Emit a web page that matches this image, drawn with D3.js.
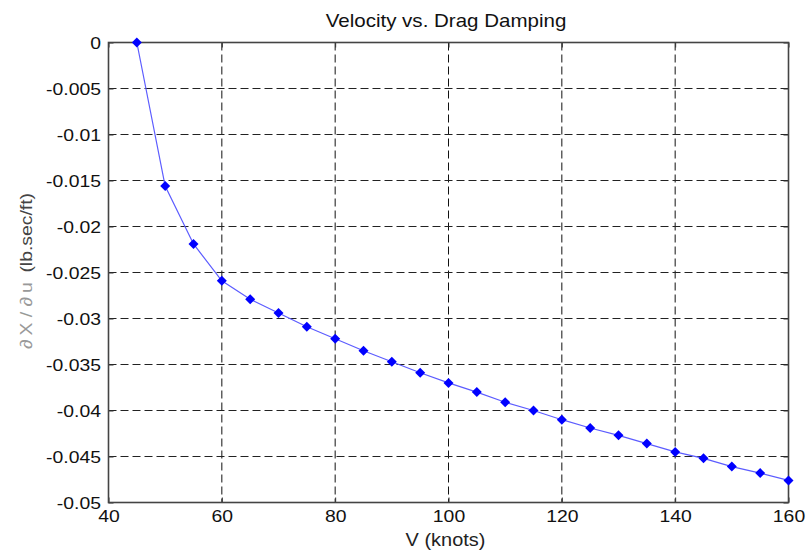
<!DOCTYPE html>
<html>
<head>
<meta charset="utf-8">
<script src="https://cdn.jsdelivr.net/npm/d3@7"></script>
<style>
  html, body { margin: 0; padding: 0; background: #fff; }
  svg { display: block; font-family: "Liberation Sans", Arial, sans-serif; }
</style>
</head>
<body>
<svg id="chart" width="807" height="552"></svg>
<script>
// Airspeed (knots) and the drag damping derivative dX/du (lb.sec/ft)
const speeds = [45, 50, 55, 60, 65, 70, 75, 80, 85, 90, 95, 100, 105, 110, 115, 120, 125, 130, 135, 140, 145, 150, 155, 160];
const damping = [0.0000, -0.0156, -0.0219, -0.0259, -0.0279, -0.0294, -0.0309, -0.0322, -0.0335, -0.0347, -0.0359, -0.0370,
                 -0.0380, -0.0391, -0.0400, -0.0410, -0.0419, -0.0427, -0.0436, -0.0445, -0.0452, -0.0461, -0.0468, -0.0476];
const xTicks = [40, 60, 80, 100, 120, 140, 160];
const yTicks = [0, -0.005, -0.01, -0.015, -0.02, -0.025, -0.03, -0.035, -0.04, -0.045, -0.05];
const yTickLabels = ["0", "-0.005", "-0.01", "-0.015", "-0.02", "-0.025", "-0.03", "-0.035", "-0.04", "-0.045", "-0.05"];

const svg = d3.select("#chart");
const plot = { left: 108.5, right: 788.5, top: 42.5, bottom: 502.5 };
const stretch = 1.14;   // wide glyph rendering used for all text
const fontSize = 17;

const x = d3.scaleLinear().domain([40, 160]).range([plot.left, plot.right]);
const y = d3.scaleLinear().domain([-0.05, 0]).range([plot.bottom, plot.top]);

// Dashed grid
const grid = svg.append("g");
grid.selectAll("line.vg").data(xTicks.slice(1, -1)).join("line")
  .attr("x1", d => x(d)).attr("x2", d => x(d))
  .attr("y1", plot.top).attr("y2", plot.bottom)
  .attr("stroke", "#111").attr("stroke-width", 1).attr("stroke-dasharray", "8,4");
grid.selectAll("line.hg").data(yTicks.slice(1, -1)).join("line")
  .attr("y1", d => y(d)).attr("y2", d => y(d))
  .attr("x1", plot.left).attr("x2", plot.right)
  .attr("stroke", "#222").attr("stroke-width", 1).attr("stroke-dasharray", "8,4");

// Axes: labels on bottom/left, inward ticks on all sides
const xAxis = d3.axisBottom(x).tickValues(xTicks).tickSize(-5).tickPadding(0).tickFormat(d3.format("d"));
const yAxis = d3.axisLeft(y).tickValues(yTicks).tickSize(-5).tickPadding(0).tickFormat((d, i) => yTickLabels[i]);

function styleAxis(g) {
  g.select(".domain").remove();
  g.selectAll(".tick line").attr("stroke", "#333");
  g.selectAll(".tick text").attr("fill", "#111").style("font-size", fontSize + "px")
   .style("font-family", '"Liberation Sans", Arial, sans-serif');
}

svg.append("g").attr("transform", `translate(0,${plot.bottom})`).call(xAxis).call(styleAxis)
  .selectAll(".tick text")
  .attr("y", 20).attr("dy", 0)
  .attr("transform", `scale(${stretch},1)`);
svg.append("g").attr("transform", `translate(${plot.left},0)`).call(yAxis).call(styleAxis)
  .selectAll(".tick text")
  .attr("x", -7.5 / stretch).attr("dy", "0.36em")
  .attr("transform", `scale(${stretch},1)`);
svg.append("g").attr("transform", `translate(0,${plot.top})`)
  .call(d3.axisTop(x).tickValues(xTicks).tickSize(-5).tickFormat(""))
  .call(g => { g.select(".domain").remove(); g.selectAll(".tick line").attr("stroke", "#333"); });
svg.append("g").attr("transform", `translate(${plot.right},0)`)
  .call(d3.axisRight(y).tickValues(yTicks).tickSize(-5).tickFormat(""))
  .call(g => { g.select(".domain").remove(); g.selectAll(".tick line").attr("stroke", "#333"); });

// Axes box
svg.append("rect")
  .attr("x", plot.left).attr("y", plot.top)
  .attr("width", plot.right - plot.left).attr("height", plot.bottom - plot.top)
  .attr("fill", "none").attr("stroke", "#444").attr("stroke-width", 1.6);

// Series line and diamond markers
const pts = speeds.map((v, i) => [v, damping[i]]);
svg.append("path")
  .datum(pts)
  .attr("fill", "none")
  .attr("stroke", "#5c5cff")
  .attr("stroke-width", 1.2)
  .attr("d", d3.line().x(d => x(d[0])).y(d => y(d[1])));

svg.append("g").selectAll("path").data(pts).join("path")
  .attr("transform", d => `translate(${x(d[0])},${y(d[1])}) rotate(45)`)
  .attr("d", d3.symbol(d3.symbolSquare, 50)())
  .attr("fill", "#0000ff");

// Title and axis labels
svg.append("text")
  .attr("transform", `translate(446,26.5) scale(${stretch},1)`)
  .attr("text-anchor", "middle").attr("fill", "#111")
  .style("font-size", "18px")
  .text("Velocity vs. Drag Damping");

svg.append("text")
  .attr("transform", `translate(445.5,545.5) scale(${stretch},1)`)
  .attr("text-anchor", "middle").attr("fill", "#222")
  .style("font-size", "17.5px")
  .text("V (knots)");

const yl = svg.append("text")
  .attr("transform", `translate(32,271) rotate(-90) scale(${stretch},1)`)
  .attr("text-anchor", "middle")
  .style("font-size", "17px");
yl.append("tspan").attr("fill", "#999").text("\u2202\u2009X / \u2202\u2009u");
yl.append("tspan").attr("fill", "#444").text("\u2002(lb.sec/ft)");
</script>
</body>
</html>
